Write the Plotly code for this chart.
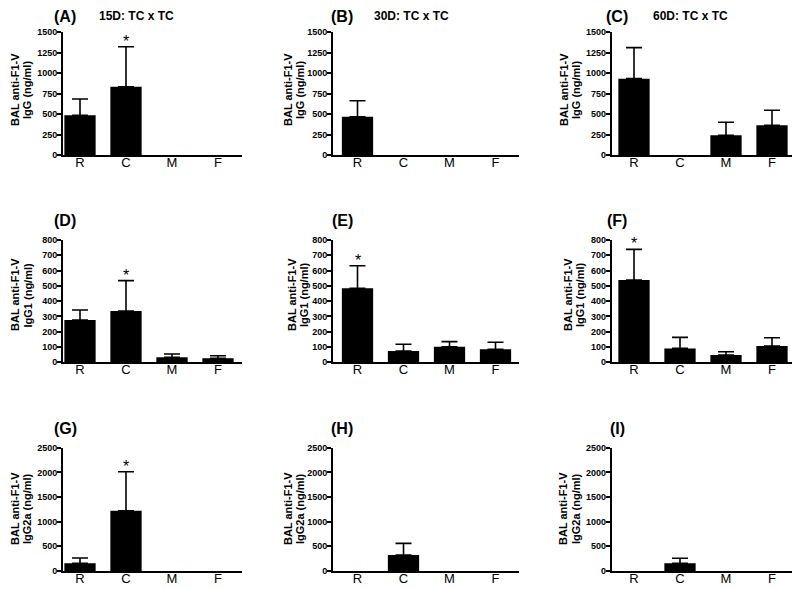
import plotly.graph_objects as go

categories = ["R", "C", "M", "F"]

panel_letters = ["(A)", "(B)", "(C)", "(D)", "(E)", "(F)", "(G)", "(H)", "(I)"]
panel_titles = ["15D: TC x TC", "30D: TC x TC", "60D: TC x TC", "", "", "", "", "", ""]

y_title_line1 = ["BAL anti-F1-V"] * 9
y_title_line2 = ["IgG (ng/ml)"] * 3 + ["IgG1 (ng/ml)"] * 3 + ["IgG2a (ng/ml)"] * 3

# means
A_mean = [484, 833, 0, 0]
B_mean = [467, 0, 0, 0]
C_mean = [931, 0, 240, 362]
D_mean = [277, 336, 33, 26]
E_mean = [484, 74, 102, 85]
F_mean = [538, 91, 48, 107]
G_mean = [155, 1223, 0, 0]
H_mean = [0, 324, 0, 0]
I_mean = [0, 155, 0, 0]

# top of error bars (mean + SEM)
A_upper = [683, 1321, 0, 0]
B_upper = [662, 0, 0, 0]
C_upper = [1309, 0, 399, 545]
D_upper = [342, 534, 54, 43]
E_upper = [632, 118, 135, 131]
F_upper = [739, 163, 69, 161]
G_upper = [263, 2013, 0, 0]
H_upper = [0, 561, 0, 0]
I_upper = [0, 257, 0, 0]

# significance stars
A_star = ["C"]
B_star = []
C_star = []
D_star = ["C"]
E_star = ["R"]
F_star = ["R"]
G_star = ["C"]
H_star = []
I_star = []

y_max = [1500, 1500, 1500, 800, 800, 800, 2500, 2500, 2500]
y_dtick = [250, 250, 250, 100, 100, 100, 500, 500, 500]

means = [A_mean, B_mean, C_mean, D_mean, E_mean, F_mean, G_mean, H_mean, I_mean]
uppers = [A_upper, B_upper, C_upper, D_upper, E_upper, F_upper, G_upper, H_upper, I_upper]
stars = [A_star, B_star, C_star, D_star, E_star, F_star, G_star, H_star, I_star]

# the page body has an 8px margin, so the figure is drawn offset by 8px
OFF = 8
W, H = 800 - OFF, 589 - OFF
FONT = "Arial, Liberation Sans, sans-serif"

# layout in window pixels
col_center_R = [80, 357.5, 634]
col_step = 46
col_range = [(-0.37, 3.52), (-0.53, 3.51), (-0.48, 3.57)]
row_px = [(32, 155), (240, 362.3), (447.7, 571)]
letter_x = [65, 342, 617]
title_x = [136, 411, 690]
letter_y = [16, 221, 428]
ytitle_x = [[(15, 27), (288, 300), (564, 576)],
            [(15, 27.5), (292, 304), (568, 580)],
            [(15, 27), (288, 300), (563, 576)]]
ytitle_y = [90, 295, 509]


def px_x(v):
    return (v - OFF) / W


def px_y(v):
    return 1 - (v - OFF) / H


fig = go.Figure()
annotations = []

for i in range(9):
    r, c = divmod(i, 3)
    ax = "" if i == 0 else str(i + 1)
    xref = "x" + ax
    yref = "y" + ax
    m = means[i]
    up = uppers[i]
    # empty groups (zero mean and zero error) draw nothing
    y_plot = [None if (v == 0 and u == 0) else v for v, u in zip(m, up)]
    err = [None if (v == 0 and u == 0) else max(u - v, 0) for u, v in zip(up, m)]
    fig.add_trace(go.Bar(
        x=categories, y=y_plot, xaxis=xref, yaxis=yref,
        marker=dict(color="black", line=dict(color="black", width=0)),
        width=0.68,
        error_y=dict(type="data", symmetric=False, array=err, arrayminus=[0] * 4,
                     color="black", thickness=1.6, width=8, visible=True),
        showlegend=False, hoverinfo="skip",
    ))
    for s in stars[i]:
        k = categories.index(s)
        annotations.append(dict(
            x=s, y=up[k], xref=xref, yref=yref, text="*", showarrow=False,
            yanchor="bottom", yshift=-5,
            font=dict(family=FONT, size=16, color="black"),
        ))
    lo, hi = col_range[c]
    x0 = col_center_R[c] + lo * col_step
    x1 = col_center_R[c] + hi * col_step
    y0, y1 = row_px[r]
    fig.layout["xaxis" + ax] = dict(
        domain=[px_x(x0), px_x(x1)], anchor=yref,
        range=[lo, hi], type="category",
        showline=True, linecolor="black", linewidth=2,
        ticks="", ticklen=0, ticklabelstandoff=-6, showgrid=False, zeroline=False,
        tickfont=dict(family=FONT, size=13, color="black"),
        fixedrange=True,
    )
    fig.layout["yaxis" + ax] = dict(
        domain=[px_y(y1), px_y(y0)], anchor=xref,
        range=[0, y_max[i]], dtick=y_dtick[i], tick0=0,
        showline=True, linecolor="black", linewidth=2,
        ticks="outside", ticklen=4, tickwidth=2, tickcolor="black",
        ticklabelstandoff=-2,
        showgrid=False, zeroline=False,
        tickfont=dict(family=FONT, size=9, color="black", weight="bold"),
        fixedrange=True,
    )
    # y-axis title, two rotated lines
    for txt, xx in zip([y_title_line1[i], y_title_line2[i]], ytitle_x[r][c]):
        annotations.append(dict(
            x=px_x(xx), y=px_y(ytitle_y[r]), xref="paper", yref="paper",
            text="<b>" + txt + "</b>", showarrow=False, textangle=-90,
            xanchor="center", yanchor="middle",
            font=dict(family=FONT, size=11, color="black"),
        ))
    annotations.append(dict(
        x=px_x(letter_x[c]), y=px_y(letter_y[r]), xref="paper", yref="paper",
        text="<b>" + panel_letters[i] + "</b>", showarrow=False,
        xanchor="center", yanchor="middle",
        font=dict(family=FONT, size=16, color="black"),
    ))
    if panel_titles[i]:
        annotations.append(dict(
            x=px_x(title_x[c]), y=px_y(letter_y[r]), xref="paper", yref="paper",
            text="<b>" + panel_titles[i] + "</b>", showarrow=False,
            xanchor="center", yanchor="middle",
            font=dict(family=FONT, size=12, color="black"),
        ))

fig.update_layout(
    width=W, height=H,
    margin=dict(l=0, r=0, t=0, b=0, autoexpand=False),
    paper_bgcolor="white", plot_bgcolor="white",
    annotations=annotations,
    font=dict(family=FONT, color="black"),
)

fig.write_html("out.html")
